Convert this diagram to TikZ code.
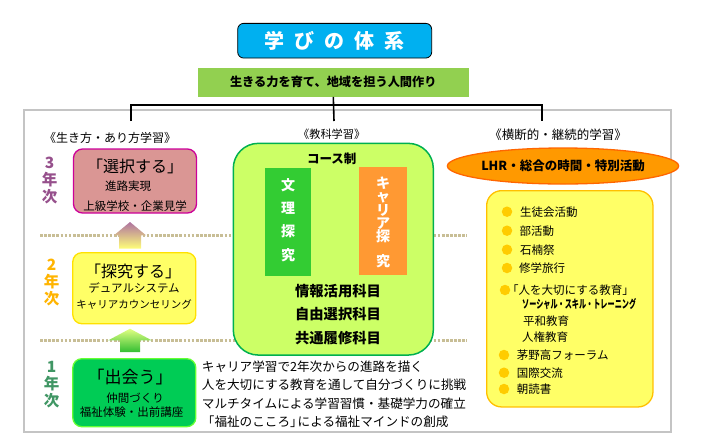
\documentclass[tikz,border=0pt]{standalone}
\usepackage{fontspec}
\setmainfont{Noto Sans CJK JP}
\usetikzlibrary{shapes.geometric}

\definecolor{titlecyan}{RGB}{0,176,240}
\definecolor{bannergreen}{RGB}{146,208,80}
\definecolor{framegray}{RGB}{196,196,196}
\definecolor{dotbrown}{RGB}{200,190,150}
\definecolor{pinkfill}{RGB}{218,150,148}
\definecolor{pinkborder}{RGB}{204,0,153}
\definecolor{tanyellow}{RGB}{255,255,102}
\definecolor{tanborder}{RGB}{255,225,0}
\definecolor{meetgreen}{RGB}{0,204,85}
\definecolor{meetborder}{RGB}{102,255,51}
\definecolor{courselime}{RGB}{204,255,102}
\definecolor{courseborder}{RGB}{0,176,80}
\definecolor{bunrigreen}{RGB}{51,204,51}
\definecolor{careerorange}{RGB}{255,153,51}
\definecolor{lhrorange}{RGB}{255,153,0}
\definecolor{lhrborder}{RGB}{255,102,0}
\definecolor{actborder}{RGB}{255,192,0}
\definecolor{bulletgold}{RGB}{255,204,0}
\definecolor{year3}{RGB}{150,80,140}
\definecolor{year2}{RGB}{255,180,0}
\definecolor{year1}{RGB}{64,150,100}
\definecolor{arrowmauve}{RGB}{175,115,160}
\definecolor{arrowpale}{RGB}{255,255,120}
\definecolor{arrowlime}{RGB}{225,255,130}
\definecolor{arrowgreen}{RGB}{50,190,50}

\newcommand\fsz[1]{\fontsize{#1}{#1}\selectfont}
\newcommand\tightlines{\lineskiplimit=-20pt\relax}

\begin{document}
\begin{tikzpicture}[x=1pt, y=-1pt, inner sep=0pt,
    yearbox/.style={draw, rounded corners=9pt, line width=1.3pt, minimum width=123pt},
    heading/.style={font=\fsz{12}},
    boxtitle/.style={font=\fsz{16}},
    boxline/.style={font=\fsz{11.5}},
    yearlabel/.style={align=center, font=\bfseries\fontsize{15.5}{17}\selectfont},
    item/.style={anchor=west, font=\fsz{11.5}},
    bullet/.style={circle, fill=bulletgold, minimum size=10.5pt},
    note/.style={anchor=west, font=\fsz{12.6}},
    subject/.style={font=\bfseries\fsz{14.3}},
    dotline/.style={dotbrown, line width=3pt, dash pattern=on 2.7pt off 1.4pt},
    tree/.style={line width=1.6pt}]
    \useasboundingbox (0,0) rectangle (703,445);

    % Frame
    \draw[framegray, line width=2pt] (24,110) rectangle (671,432);

    % Title and aim
    \node[draw, fill=titlecyan, rounded corners=6pt, line width=0.8pt, minimum width=194pt, minimum height=34.7pt, text=white, font=\bfseries\fsz{20}] (title) at (334.7,40.7) {学\hspace{10pt}び\hspace{10pt}の\hspace{10pt}体\hspace{10pt}系};
    \node[fill=bannergreen, minimum width=271pt, minimum height=28.7pt, font=\bfseries\fsz{12.2}] (banner) at (333.3,82.3) {生きる力を育て、地域を担う人間作り};

    % Connections from aim
    \coordinate (split) at (334,105);
    \coordinate (lifetop) at (131,121);
    \coordinate (subjtop) at (334,121);
    \coordinate (crosstop) at (542,121);
    \draw[tree] (banner.south) -- (subjtop);
    \draw[tree] (lifetop) -- (lifetop |- split) -- (crosstop |- split) -- (crosstop);

    % Headings
    \node[heading] (lifehead) at (110,138.3) {《生き方・あり方学習》};
    \node[heading, font=\fsz{11.2}] (subjhead) at (331.7,134) {《教科学習》};
    \node[heading, font=\fsz{12.5}] (crosshead) at (558,135) {《横断的・継続的学習》};

    % Year separators
    \draw[dotline] (40,235.3) -- (467,235.3);
    \draw[dotline] (40,340.3) -- (467,340.3);

    % Year labels
    \node[yearlabel, text=year3] (y3) at (49.5,180) {3\\年\\次};
    \node[yearlabel, text=year2] (y2) at (51.7,282.5) {2\\年\\次};
    \node[yearlabel, text=year1] (y1) at (51.7,384.8) {1\\年\\次};

    % Year 3
    \node[yearbox, fill=pinkfill, draw=pinkborder, minimum height=64pt] (choose) at (135,181) {};
    \node[boxtitle] (choosetitle) at (135,166.7) {「選択する」};
    \node[boxline] (choose1) at (128,185.7) {進路実現};
    \node[boxline] (choose2) at (135,205.7) {上級学校・企業見学};

    % Year 2
    \node[yearbox, fill=tanyellow, draw=tanborder, minimum height=71pt] (explore) at (134.3,288.2) {};
    \node[boxtitle] (exploretitle) at (133,271.7) {「探究する」};
    \node[boxline] (explore1) at (134,288.3) {デュアルシステム};
    \node[boxline, font=\fsz{10.5}] (explore2) at (134,305) {キャリアカウンセリング};

    % Year 1
    \node[yearbox, fill=meetgreen, draw=meetborder, minimum height=68pt] (meet) at (134.3,392.7) {};
    \node[boxtitle, font=\fsz{17}] (meettitle) at (130,376.7) {「出会う」};
    \node[boxline] (meet1) at (135,398.3) {仲間づくり};
    \node[boxline] (meet2) at (131.7,411.7) {福祉体験・出前講座};

    % Arrows between years
    \shade[top color=arrowmauve, bottom color=arrowpale] (130,222) -- (146,235.3) -- (141,235.3) -- (141,248.7) -- (119,248.7) -- (119,235.3) -- (114,235.3) -- cycle;
    \shade[top color=arrowlime, bottom color=arrowgreen] (130,328.7) -- (151.7,340.3) -- (140,340.3) -- (140,352) -- (120,352) -- (120,340.3) -- (108.3,340.3) -- cycle;

    % Notes beside year 1
    \node[note] (note1) at (201.7,366.7) {キャリア学習で2年次からの進路を描く};
    \node[note] (note2) at (201.7,385) {人を大切にする教育を通して自分づくりに挑戦};
    \node[note] (note3) at (201.7,403.3) {マルチタイムによる学習習慣・基礎学力の確立};
    \node[note] (note4) at (201.7,421.7) {「福祉のこころ」\kern-5pt による福祉マインドの創成};

    % Subject learning
    \node[draw=courseborder, fill=courselime, rounded corners=25pt, line width=1.5pt, minimum width=200pt, minimum height=211.7pt] (course) at (333.3,249.2) {};
    \node[font=\bfseries\fsz{12.5}] (coursehead) at (331.7,158.3) {コース制};
    \node[fill=bunrigreen, minimum width=45.7pt, minimum height=107.4pt] (bunri) at (287.8,222) {};
    \node[text=white, align=center, font=\bfseries\fontsize{14}{23.3}\selectfont] (bunritext) at (288,220) {文\\理\\探\\究};
    \node[fill=careerorange, minimum width=47.7pt, minimum height=107.7pt] (career) at (382.8,221.2) {};
    \node[text=white, align=center, font=\bfseries\fontsize{14}{13.4}\selectfont\tightlines] (careertext) at (383,222.5) {キ\\ャ\\リ\\ア\\探\\[11.6pt]究};
    \node[subject] (info) at (338,290.7) {情報活用科目};
    \node[subject] (elect) at (338,314.3) {自由選択科目};
    \node[subject] (common) at (338,338.3) {共通履修科目};

    % Cross-curricular learning
    \node[ellipse, draw=lhrborder, fill=lhrorange, line width=1.3pt, minimum width=198pt, minimum height=36pt, font=\bfseries\fsz{12.5}] (lhr) at (563,166) {LHR・総合の時間・特別活動};
    \node[draw=actborder, fill=tanyellow, rounded corners=15pt, line width=1.3pt, minimum width=166.3pt, minimum height=216.3pt] (acts) at (569.8,298.8) {};

    \node[bullet] (b1) at (507,211.7) {};
    \node[item] (council) at (520,211.7) {生徒会活動};
    \node[bullet] (b2) at (507,230.7) {};
    \node[item] (club) at (519.3,230.7) {部活動};
    \node[bullet] (b3) at (507,249.7) {};
    \node[item] (fest) at (520,249.7) {石楠祭};
    \node[bullet] (b4) at (507,268) {};
    \node[item] (trip) at (519,268) {修学旅行};
    \node[bullet] (b5) at (505,290) {};
    \node[item] (people) at (507,290) {「人を大切にする教育」};
    \node[item, font=\bfseries\fsz{11.5}] (social) at (522,304) {\scalebox{0.62}[1]{ソーシャル・スキル・トレーニング}};
    \node[item] (peace) at (523,320.7) {平和教育};
    \node[item] (rights) at (522,337.3) {人権教育};
    \node[bullet] (b6) at (504,355) {};
    \node[item] (forum) at (516.7,355) {茅野高フォーラム};
    \node[bullet] (b7) at (504,372.7) {};
    \node[item] (intl) at (516.7,372.7) {国際交流};
    \node[bullet] (b8) at (504,389) {};
    \node[item] (reading) at (516.7,389) {朝読書};
\end{tikzpicture}
\end{document}
